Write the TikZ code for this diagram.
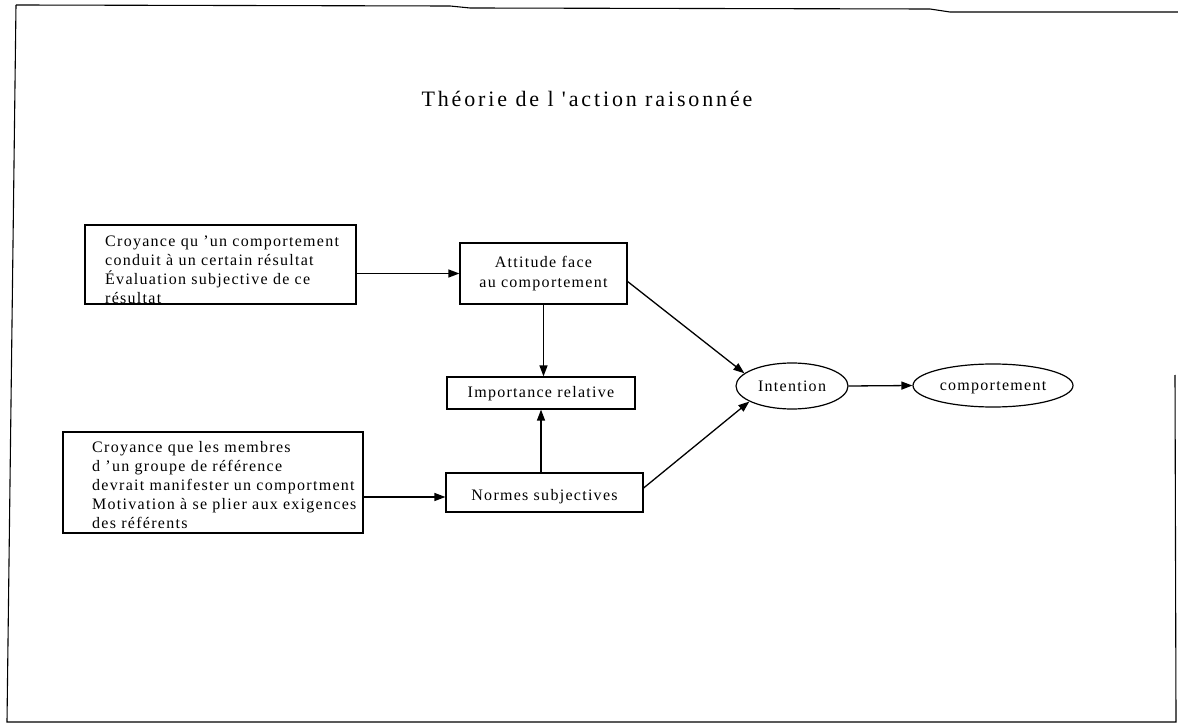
\documentclass[tikz,border=0pt]{standalone}
\usepackage{fontspec}
\setmainfont{Liberation Serif}[LetterSpace=8]
\newfontfamily\titlefont{Liberation Serif}[LetterSpace=13]
\usetikzlibrary{arrows.meta,shapes.geometric}
\begin{document}
\begin{tikzpicture}[x=1pt,y=-1pt,
  box/.style={draw, line width=1.2pt, rectangle, inner sep=0pt, align=center,
    font=\fontsize{16}{20}\selectfont},
  oval/.style={draw, line width=1.2pt, ellipse, inner sep=0pt,
    font=\fontsize{16}{20}\selectfont, text height=11pt, text depth=1pt},
  txt/.style={inner sep=0pt, font=\fontsize{16}{19}\selectfont, align=left},
  conn/.style={line width=1.3pt, -{Triangle[length=11pt,width=8pt]}},
  frameline/.style={line width=1.1pt}]
\useasboundingbox (0,0) rectangle (1178,727);
% frame
\draw[frameline] (16,5) -- (450,6) -- (470,8) -- (930,9) -- (950,12) -- (1178,12);
\draw[frameline] (16,5) -- (7,722) -- (1176,722) -- (1175,375);
% title
\node[inner sep=0pt, anchor=base, font=\titlefont\fontsize{22}{26}\selectfont] (title) at (587,107) {Théorie de l 'action raisonnée};
% boxes
\node[box, minimum width=271pt, minimum height=79pt] (b1) at (220.5,264.5) {};
\node[txt, anchor=north west] (t1) at (105,236) {Croyance qu 'un comportement\\conduit à un certain résultat\\Évaluation subjective de ce\\résultat};
\node[box, minimum width=300pt, minimum height=101pt] (b2) at (213,482.5) {};
\node[txt, anchor=north west] (t2) at (92,441) {Croyance que les membres\\d 'un groupe de référence\\devrait manifester un comportment\\Motivation à se plier aux exigences\\des référents};
\node[box, minimum width=167pt, minimum height=61pt] (att) at (543.5,273.5) {Attitude face\\au comportement};
\node[box, minimum width=188pt, minimum height=32pt, text height=11pt, text depth=3pt] (imp) at (541,393) {Importance relative};
\node[box, minimum width=197pt, minimum height=39pt, text height=16pt, text depth=0pt] (nor) at (544.5,492.5) {Normes subjectives};
\node[oval, minimum width=112pt, minimum height=46pt] (int) at (792,386) {Intention};
\node[oval, minimum width=160pt, minimum height=43pt] (com) at (993,385.5) {comportement};
% connectors
\draw[conn] (b1.east |- att.west) -- (att.west);
\draw[conn] ([yshift=-4.5pt]b2.east |- nor.west) -- ([yshift=-4.5pt]nor.west);
\draw[conn] (att.south) -- (att.south |- imp.north);
\draw[conn] (imp.south |- nor.north) -- (imp.south);
\draw[conn] ([yshift=-8pt]att.east) -- (int.165);
\draw[conn] ([yshift=4.5pt]nor.east) -- (int.200);
\draw[conn] (int.east) -- (com.west);
\end{tikzpicture}
\end{document}
